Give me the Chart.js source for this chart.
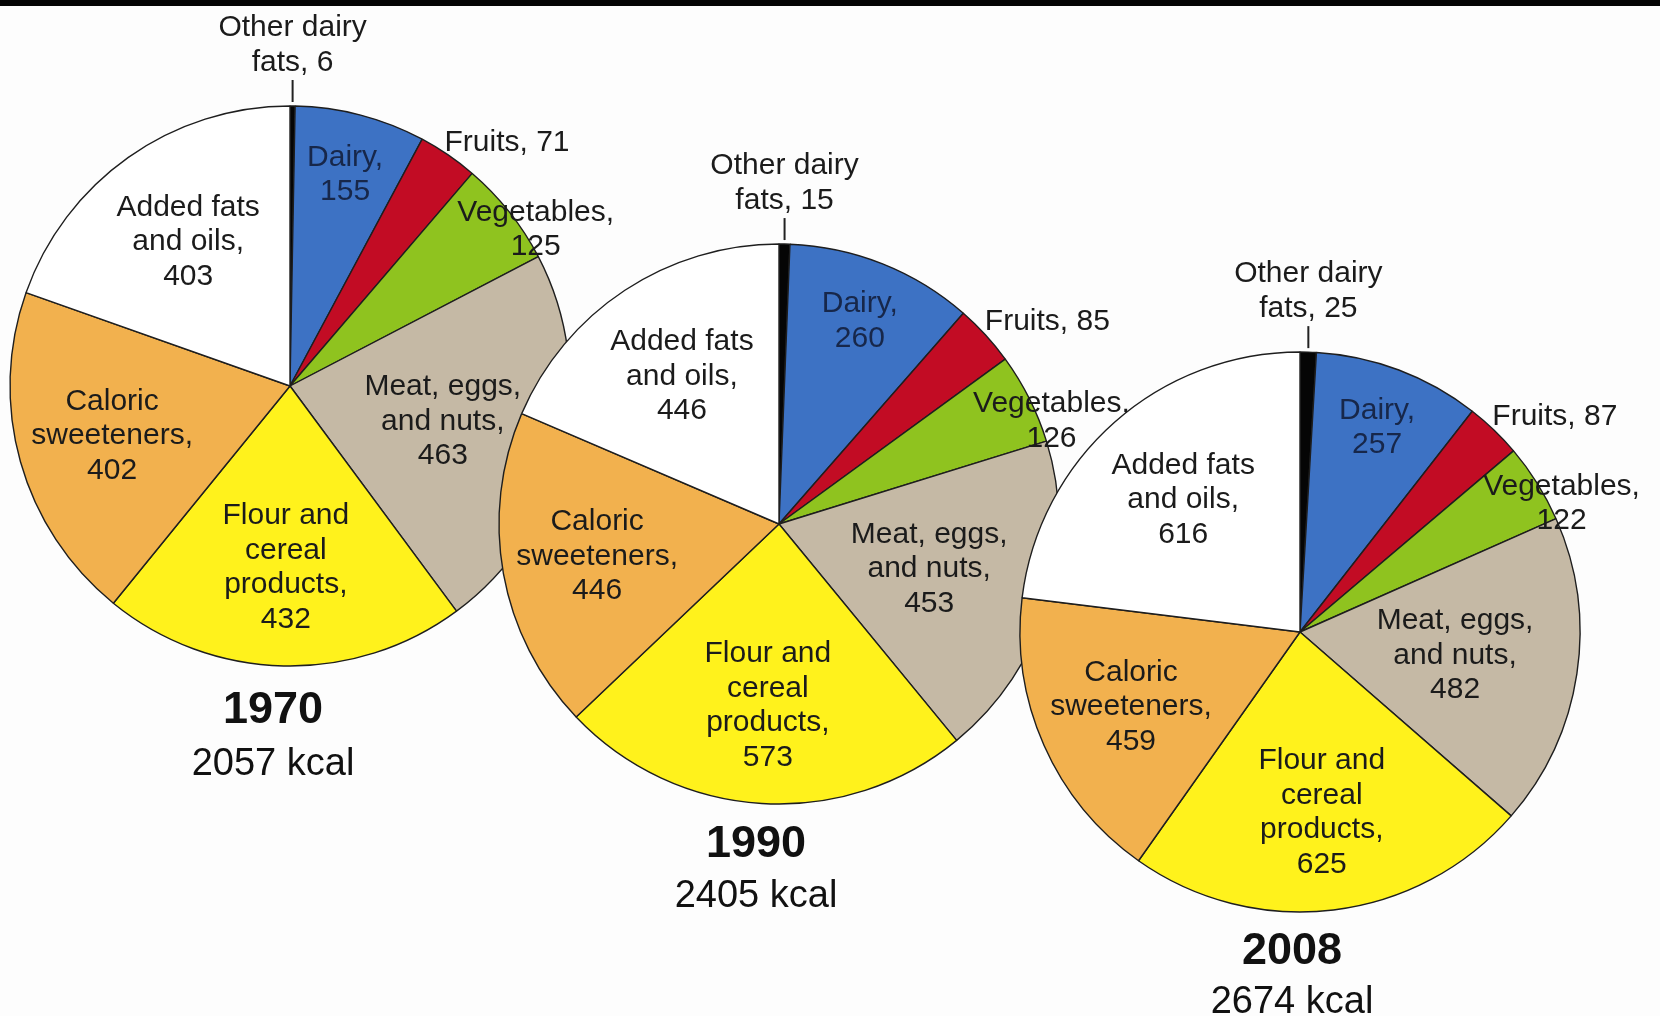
<!DOCTYPE html>
<html>
<head>
<meta charset="utf-8">
<script src="https://cdn.jsdelivr.net/npm/chart.js@4.4.1/dist/chart.umd.min.js"></script>
<style>
    html, body { margin: 0; padding: 0; background: #fdfdfd; }
    #wrap { position: relative; width: 1660px; height: 1016px; overflow: hidden; }
    #topbar { position: absolute; left: 0; top: 0; width: 1660px; height: 6px; background: #050505; z-index: 10; }
    canvas { position: absolute; left: 0; top: 0; }
</style>
</head>
<body>
<div id="wrap">
    <div id="topbar"></div>
    <canvas id="pie1970" width="1660" height="1016"></canvas>
    <canvas id="pie1990" width="1660" height="1016"></canvas>
    <canvas id="pie2008" width="1660" height="1016"></canvas>
</div>
<script>
"use strict";

// data
const categories = ['Other dairy fats', 'Dairy', 'Fruits', 'Vegetables', 'Meat, eggs, and nuts',
    'Flour and cereal products', 'Caloric sweeteners', 'Added fats and oils'];
const years = ['1970', '1990', '2008'];
const values1970 = [6, 155, 71, 125, 463, 432, 402, 403];
const values1990 = [15, 260, 85, 126, 453, 573, 446, 446];
const values2008 = [25, 257, 87, 122, 482, 625, 459, 616];
const totalKcal = [2057, 2405, 2674];

// how each label is broken into lines, # = value
const labelLines = [
    ['Other dairy', 'fats, #'],
    ['Dairy,', '#'],
    ['Fruits, #'],
    ['Vegetables,', '#'],
    ['Meat, eggs,', 'and nuts,', '#'],
    ['Flour and', 'cereal', 'products,', '#'],
    ['Caloric', 'sweeteners,', '#'],
    ['Added fats', 'and oils,', '#']
];

const colors = ['#050505', '#3d72c4', '#c20c24', '#8fc31f', '#c5b9a5', '#fff21c', '#f2b14e', '#ffffff'];
// label placement: radius factor, angle shift (deg), alignment
const labelPlace = [
    { top: true },
    { r: 0.78 },
    { r: 1.03, da: -2, align: 'left' },
    { r: 1.04, da: 6 },
    { r: 0.56 },
    { r: 0.65 },
    { r: 0.66 },
    { r: 0.63 }
];

const R = 280;
const pies = [
    { id: 'pie1970', values: values1970, cx: 290, cy: 386, titleDx: -17, titleDy: 5 },
    { id: 'pie1990', values: values1990, cx: 779, cy: 524, titleDx: -23, titleDy: 1 },
    { id: 'pie2008', values: values2008, cx: 1300, cy: 632, titleDx: -8, titleDy: 0 }
];

const FONT = '"Liberation Sans", Arial, sans-serif';
const TEXT = '#1b1b1b';

function drawLines(ctx, lines, x, y, lh, align) {
    ctx.textAlign = align || 'center';
    const y0 = y - (lines.length - 1) * lh / 2;
    lines.forEach(function(t, i) { ctx.fillText(t, x, y0 + i * lh); });
}

const pieLabels = {
    id: 'pieLabels',
    afterDraw: function(chart, args, opts) {
        const ctx = chart.ctx;
        const meta = chart.getDatasetMeta(0);
        const vals = chart.data.datasets[0].data;
        ctx.save();
        ctx.fillStyle = TEXT;
        ctx.textBaseline = 'middle';
        ctx.font = '30px ' + FONT;
        let cx = 0, cy = 0, rad = R;
        meta.data.forEach(function(arc, i) {
            const p = arc.getProps(['x', 'y', 'startAngle', 'endAngle', 'outerRadius'], true);
            cx = p.x; cy = p.y; rad = p.outerRadius;
            const place = labelPlace[i];
            const lines = labelLines[i].map(function(t) { return t.replace('#', vals[i]); });
            const mid = (p.startAngle + p.endAngle) / 2;
            if (place.top) {
                const tx = p.x + Math.cos(mid) * (rad + 4);
                ctx.strokeStyle = '#222';
                ctx.lineWidth = 2;
                ctx.beginPath();
                ctx.moveTo(tx, p.y + Math.sin(mid) * (rad + 4));
                ctx.lineTo(tx, p.y + Math.sin(mid) * (rad + 26));
                ctx.stroke();
                drawLines(ctx, lines, tx, p.y - rad - 61, 35);
                return;
            }
            const a = mid + (place.da || 0) * Math.PI / 180;
            const x = p.x + Math.cos(a) * rad * place.r;
            const y = p.y + Math.sin(a) * rad * place.r;
            ctx.fillStyle = i === 1 ? '#17274a' : TEXT;
            drawLines(ctx, lines, x, y, 34.5, place.align);
        });
        // year and total under the pie
        ctx.fillStyle = '#111';
        ctx.textAlign = 'center';
        ctx.font = 'bold 45px ' + FONT;
        ctx.fillText(opts.year, cx + opts.dx, cy + rad + 40 + opts.dy);
        ctx.font = '38px ' + FONT;
        ctx.fillText(opts.total + ' kcal', cx + opts.dx, cy + rad + 91 + opts.dy * 1.6);
        ctx.restore();
    }
};

window.addEventListener('load', function() {
    pies.forEach(function(pie, k) {
        const el = document.getElementById(pie.id);
        const W = el.width, H = el.height;
        new Chart(el, {
            type: 'pie',
            data: {
                labels: categories,
                datasets: [{
                    data: pie.values,
                    backgroundColor: colors,
                    borderColor: '#1e1e1e',
                    borderWidth: 1.4
                }]
            },
            options: {
                responsive: false,
                animation: false,
                radius: R,
                layout: {
                    padding: {
                        left: pie.cx - R - 2,
                        right: W - pie.cx - R - 2,
                        top: pie.cy - R - 2,
                        bottom: H - pie.cy - R - 2
                    }
                },
                plugins: {
                    legend: { display: false },
                    tooltip: { enabled: false },
                    pieLabels: { year: years[k], total: totalKcal[k], dx: pie.titleDx, dy: pie.titleDy }
                }
            },
            plugins: [pieLabels]
        });
    });
});
</script>
</body>
</html>
